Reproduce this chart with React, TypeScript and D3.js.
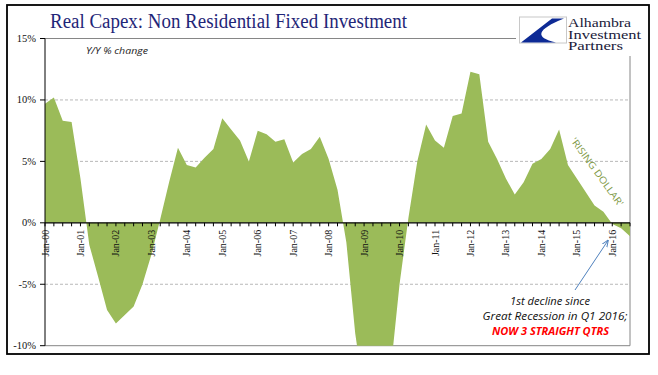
import React from 'react';
import * as d3 from 'd3';

const yearLabels = ['Jan-00','Jan-01','Jan-02','Jan-03','Jan-04','Jan-05','Jan-06','Jan-07','Jan-08','Jan-09','Jan-10','Jan-11','Jan-12','Jan-13','Jan-14','Jan-15','Jan-16'];
const quarterNames = ['Q1','Q2','Q3','Q4'];
const quarters: string[] = [];
yearLabels.forEach((y) => quarterNames.forEach((q) => quarters.push(y + ' ' + q)));
const categories = quarters.slice(0, 67);

const capexYoY = [
  9.7, 10.2, 8.3, 8.2,
  3.6, -1.8, -4.4, -7.1,
  -8.2, -7.5, -6.8, -5.0,
  -2.6, 0.3, 3.3, 6.1,
  4.7, 4.5, 5.3, 6.0,
  8.5, 7.6, 6.7, 5.0,
  7.5, 7.2, 6.6, 6.8,
  4.9, 5.6, 6.0, 7.0,
  5.2, 2.7, -1.6, -9.0,
  -14.0, -16.5, -16.0, -12.0,
  -5.0, 0.4, 5.0, 8.0,
  6.7, 6.1, 8.7, 8.9,
  12.3, 12.1, 6.6, 5.2,
  3.6, 2.3, 3.3, 4.8,
  5.2, 6.0, 7.6, 4.7,
  3.6, 2.5, 1.4, 0.9,
  -0.1, -0.45, -1.1,
];

const yTicks = [15, 10, 5, 0, -5, -10];
const gridTicks = [10, 5, -5];

const W = 658, H = 375;
const L = 45, R = 630, T = 38.5, B = 345.7;

export default function App() {
  const x = d3.scaleLinear().domain([0, categories.length - 1]).range([L, R]);
  const y = d3.scaleLinear().domain([-10, 15]).range([B, T]);
  const area = d3.area<number>()
    .x((_, i) => x(i))
    .y0(y(0))
    .y1((d) => y(d));
  const fmt = (v: number) => `${v}%`;

  return (
    <svg width={W} height={H} viewBox={`0 0 ${W} ${H}`} style={{ position: 'absolute', left: 0, top: 0, background: '#fff' }}>
      <defs>
        <clipPath id="plot">
          <rect x={L} y={T} width={R - L} height={B - T} />
        </clipPath>
        <marker id="arrow" viewBox="0 0 10 10" refX="9" refY="5" markerWidth="7" markerHeight="7" orient="auto">
          <path d="M0,1 L10,5 L0,9" fill="none" stroke="#4F81BD" strokeWidth="1.4" />
        </marker>
      </defs>
      <rect x={0} y={0} width={W} height={H} fill="#fff" />
      {/* outer frame */}
      <rect x={7} y={5} width={642} height={349} fill="none" stroke="#000" strokeWidth={1.8} />

      {/* title */}
      <text x={50} y={28} fontFamily="'Liberation Serif', serif" fontSize={20.5} fill="#1F2678" textLength={357} lengthAdjust="spacingAndGlyphs">
        Real Capex: Non Residential Fixed Investment
      </text>

      {/* plot borders */}
      <line x1={L} x2={R} y1={T} y2={T} stroke="#868686" strokeWidth={1} />
      <line x1={R} x2={R} y1={T} y2={B} stroke="#868686" strokeWidth={1} />
      <line x1={L} x2={R} y1={B} y2={B} stroke="#868686" strokeWidth={1} />

      {/* grid */}
      {gridTicks.map((t) => (
        <line key={t} x1={L} x2={R} y1={y(t)} y2={y(t)} stroke="#A6A6A6" strokeWidth={0.8} strokeDasharray="3,2" />
      ))}

      {/* area */}
      <path d={area(capexYoY) || ''} fill="#9BBB59" clipPath="url(#plot)" />

      {/* y axis */}
      <line x1={L} x2={L} y1={T} y2={B} stroke="#000" strokeWidth={1} />
      {yTicks.map((t) => (
        <g key={t}>
          <line x1={L - 5} x2={L} y1={y(t)} y2={y(t)} stroke="#000" strokeWidth={1} />
          <text x={36} y={y(t) + 3.5} textAnchor="end" fontFamily="'Liberation Serif', serif" fontSize={10.5} fill="#111">
            {fmt(t)}
          </text>
        </g>
      ))}

      {/* x axis */}
      <line x1={L} x2={R} y1={y(0)} y2={y(0)} stroke="#000" strokeWidth={1.2} />
      {categories.map((c, i) => (
        <line key={c} x1={x(i)} x2={x(i)} y1={y(0)} y2={y(0) + 3.5} stroke="#000" strokeWidth={1} />
      ))}
      {yearLabels.map((lab, k) => {
        const xi = x(k * 4);
        const yy = y(0) + 7;
        return (
          <text key={lab} transform={`translate(${xi + 3.5},${yy}) rotate(-90)`} textAnchor="end" fontFamily="'Liberation Serif', serif" fontSize={10} fill="#111">
            {lab}
          </text>
        );
      })}

      {/* subtitle */}
      <text x={86} y={54} fontFamily="'Open Sans', sans-serif" fontStyle="italic" fontSize={9} fill="#222" textLength={62} lengthAdjust="spacingAndGlyphs">
        Y/Y % change
      </text>

      {/* logo */}
      <rect x={516} y={12} width={130} height={44} fill="#fff" />
      <rect x={519.5} y={17} width={47} height={26} fill="#fff" stroke="#C8C8C8" strokeWidth={1} />
      <path d="M552,18.5 L564,18.5 Q523,35 556,42.5 L521,42.5 Z" fill="#0D2A95" />
      <text x={568} y={27} fontFamily="'Liberation Serif', serif" fontSize={11.5} fill="#1a1a3a" textLength={63} lengthAdjust="spacingAndGlyphs">Alhambra</text>
      <text x={568} y={38.5} fontFamily="'Liberation Serif', serif" fontSize={11.5} fill="#1a1a3a" textLength={73} lengthAdjust="spacingAndGlyphs">Investment</text>
      <text x={568} y={50} fontFamily="'Liberation Serif', serif" fontSize={11.5} fill="#1a1a3a" textLength={55} lengthAdjust="spacingAndGlyphs">Partners</text>

      {/* rising dollar */}
      <text transform="translate(596.5,172.5) rotate(54)" textAnchor="middle" dominantBaseline="middle" fontFamily="'Open Sans', sans-serif" fontSize={9.5} fill="#7F9A48" textLength={82} lengthAdjust="spacingAndGlyphs">
        'RISING DOLLAR'
      </text>

      {/* annotation */}
      <line x1={575} y1={290} x2={608} y2={240.5} stroke="#4F81BD" strokeWidth={1} markerEnd="url(#arrow)" />
      <text x={550} y={305} textAnchor="middle" fontFamily="'Open Sans', sans-serif" fontStyle="italic" fontSize={10.5} fill="#111" textLength={80} lengthAdjust="spacingAndGlyphs">1st decline since</text>
      <text x={555} y={320} textAnchor="middle" fontFamily="'Open Sans', sans-serif" fontStyle="italic" fontSize={10.5} fill="#111" textLength={145} lengthAdjust="spacingAndGlyphs">Great Recession in Q1 2016;</text>
      <text x={550.5} y={334.5} textAnchor="middle" fontFamily="'Open Sans', sans-serif" fontStyle="italic" fontWeight="bold" fontSize={10.5} fill="#FF0000" textLength={117} lengthAdjust="spacingAndGlyphs">NOW 3 STRAIGHT QTRS</text>
    </svg>
  );
}
